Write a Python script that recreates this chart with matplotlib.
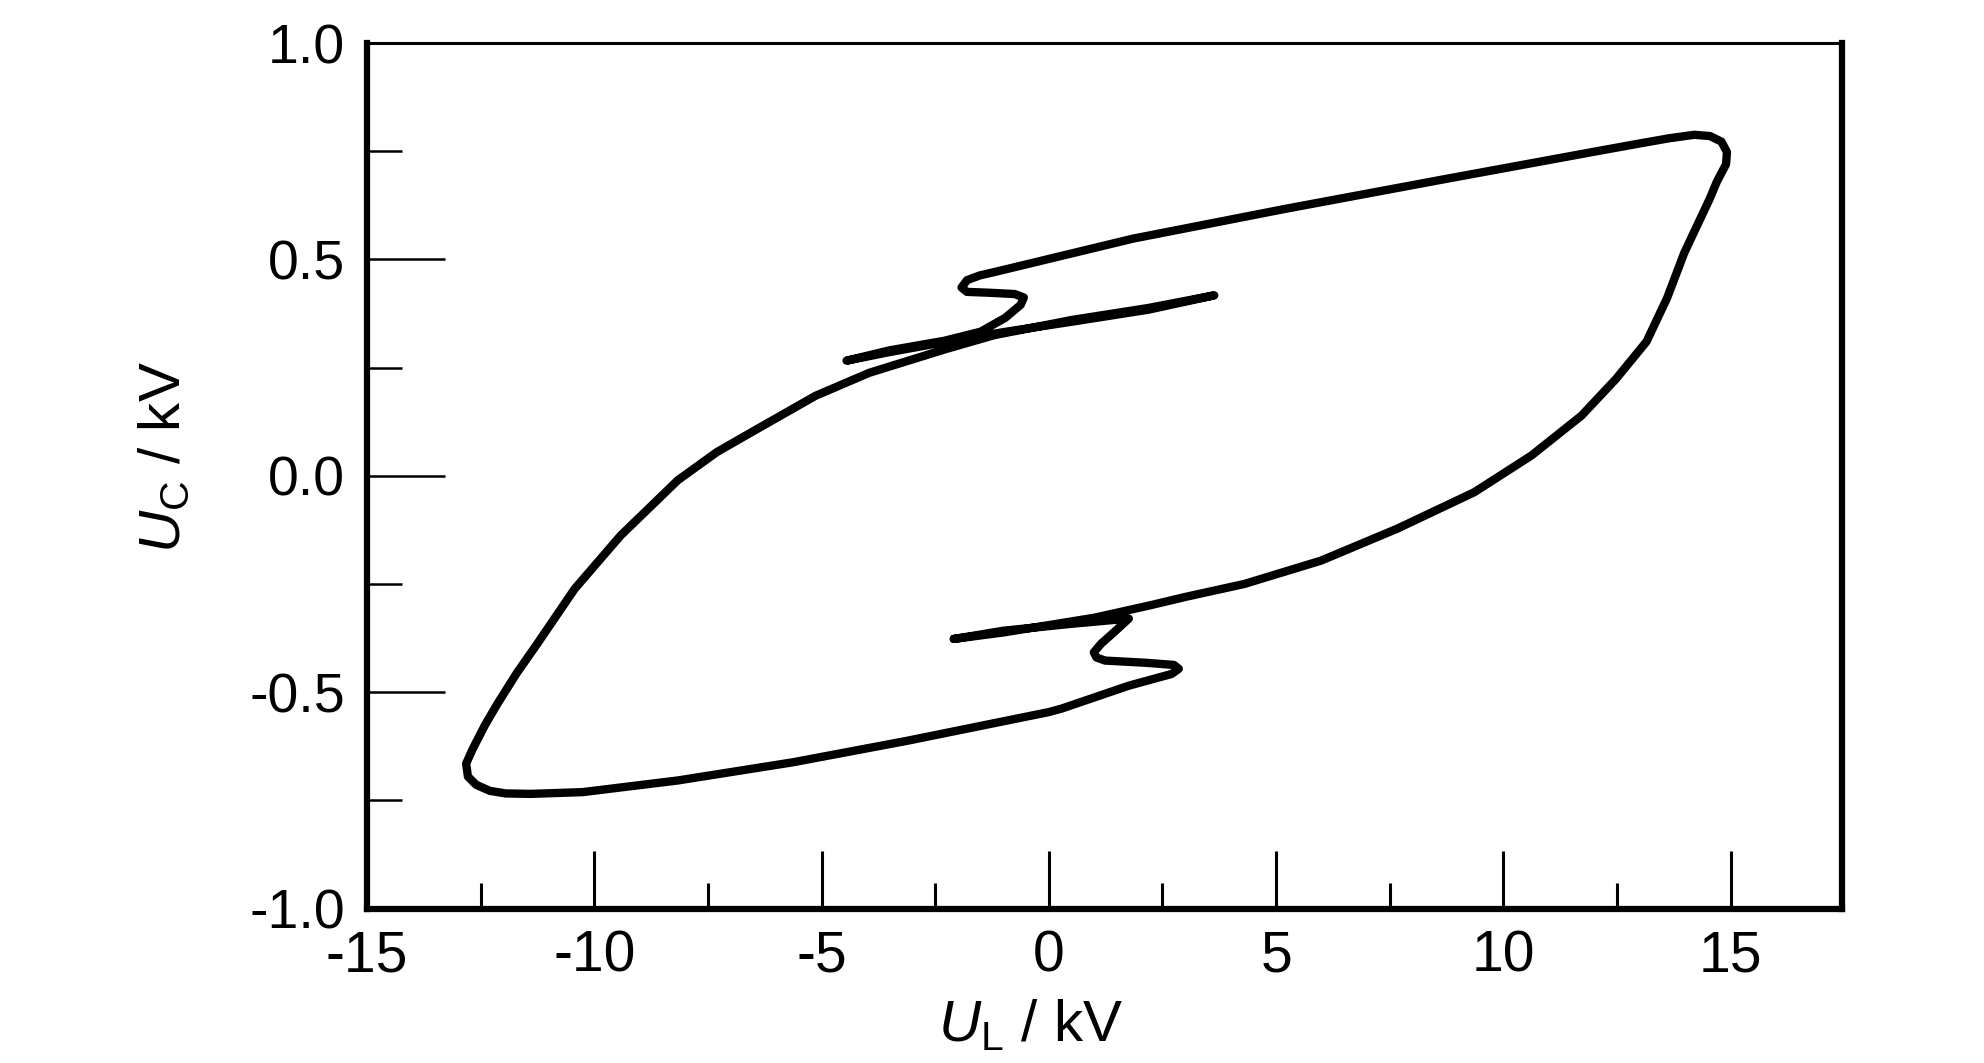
import numpy as np
import matplotlib.pyplot as plt
from matplotlib.ticker import MultipleLocator

plt.rcParams['axes.unicode_minus'] = False
plt.rcParams['mathtext.fontset'] = 'custom'
plt.rcParams['mathtext.rm'] = 'Liberation Sans'
plt.rcParams['mathtext.it'] = 'Liberation Sans:italic'

font = 'Liberation Sans'

# U_L (kV) / U_C (kV) read off the loop, walked in drawing order
# lower tail end -> back to the lower kink
lower_tail_x = [-2.09, -1.0, 0.5, 1.76]
lower_tail_y = [-0.377, -0.358, -0.342, -0.330]
# lower S kink
lower_s_x = [1.45, 1.15, 0.99, 1.05, 1.24, 2.12, 2.75, 2.86, 2.70, 1.76, 0.28]
lower_s_y = [-0.360, -0.388, -0.408, -0.420, -0.427, -0.432, -0.437, -0.446, -0.458, -0.485, -0.538]
# lower edge going left
lower_edge_x = [0.0, -3.1, -5.63, -8.16, -10.26, -11.4, -11.95, -12.3, -12.6, -12.78]
lower_edge_y = [-0.546, -0.612, -0.662, -0.704, -0.731, -0.735, -0.734, -0.728, -0.714, -0.695]
# left edge going up into the upper streak
left_edge_x = [-12.82, -12.67, -12.4, -12.12, -11.7, -11.28, -10.43, -9.42, -8.16,
               -7.3, -6.47, -5.13, -3.95, -2.26, -1.2, 0.5, 2.2, 3.64]
left_edge_y = [-0.665, -0.630, -0.575, -0.525, -0.455, -0.392, -0.261, -0.138, -0.010,
               0.055, 0.105, 0.185, 0.238, 0.293, 0.325, 0.360, 0.388, 0.417]
# back along the streak to the upper tail end, then to the upper kink
upper_tail_x = [2.2, 0.5, -1.0, -2.5, -3.5, -4.45, -3.5, -2.3, -1.5, -0.96]
upper_tail_y = [0.384, 0.356, 0.332, 0.305, 0.286, 0.266, 0.290, 0.312, 0.333, 0.365]
# upper S kink
upper_s_x = [-0.62, -0.55, -0.75, -1.3, -1.8, -1.92, -1.8, -1.52, -1.19]
upper_s_y = [0.395, 0.412, 0.420, 0.423, 0.425, 0.435, 0.452, 0.463, 0.471]
# upper edge going right
upper_edge_x = [1.85, 5.21, 8.58, 11.95, 13.0, 13.65, 14.2, 14.55, 14.8, 14.92, 14.9]
upper_edge_y = [0.548, 0.617, 0.683, 0.748, 0.768, 0.780, 0.788, 0.785, 0.772, 0.748, 0.720]
# right edge going down and back into the lower streak
right_edge_x = [14.7, 14.54, 13.98, 13.6, 13.15, 12.48, 11.72, 10.62, 9.36, 7.67, 5.99, 4.3,
                3.0, 2.2, 1.0, 0.0, -1.0, -2.09]
right_edge_y = [0.680, 0.640, 0.515, 0.410, 0.310, 0.224, 0.139, 0.047, -0.038, -0.122, -0.196, -0.250,
                -0.280, -0.300, -0.328, -0.345, -0.362, -0.377]

ul = np.concatenate([lower_tail_x, lower_s_x, lower_edge_x, left_edge_x,
                     upper_tail_x, upper_s_x, upper_edge_x, right_edge_x])
uc = np.concatenate([lower_tail_y, lower_s_y, lower_edge_y, left_edge_y,
                     upper_tail_y, upper_s_y, upper_edge_y, right_edge_y])

x_ticks = [-15, -10, -5, 0, 5, 10, 15]
y_ticks = [-1.0, -0.5, 0.0, 0.5, 1.0]

fig = plt.figure(figsize=(19.84, 10.63), dpi=100)
ax = fig.add_axes([0.185, 0.1453, 0.7434, 0.8142])

ax.plot(ul, uc, color='black', lw=6, solid_joinstyle='round', solid_capstyle='round')

ax.set_xlim(-15, 17.45)
ax.set_ylim(-1.0, 1.0)
ax.set_xticks(x_ticks)
ax.set_yticks(y_ticks)
ax.xaxis.set_minor_locator(MultipleLocator(2.5))
ax.yaxis.set_minor_locator(MultipleLocator(0.25))
ax.set_xticklabels([str(v) for v in x_ticks], fontfamily=font, fontsize=41)
ax.set_yticklabels(['%.1f' % v for v in y_ticks], fontfamily=font, fontsize=40)

ax.tick_params(axis='x', which='major', direction='in', length=42, width=2.2, pad=15)
ax.tick_params(axis='x', which='minor', direction='in', length=19, width=2.2)
ax.tick_params(axis='y', which='major', direction='in', length=56, width=1.8, pad=16)
ax.tick_params(axis='y', which='minor', direction='in', length=25, width=1.8)
ax.tick_params(top=False, right=False, which='both')

for side in ['left', 'bottom', 'right']:
    ax.spines[side].set_linewidth(4.5)
ax.spines['top'].set_linewidth(2.2)

ax.text(0.45, -0.153, r'$\mathit{U}_{\mathrm{L}}$ / kV', transform=ax.transAxes,
        ha='center', va='baseline', fontsize=42, fontfamily=font)
ax.text(-0.137, 0.522, r'$\mathit{U}_{\mathrm{C}}$ / kV', transform=ax.transAxes,
        ha='center', va='center', rotation=90, fontsize=42, fontfamily=font)

fig.savefig('out.png', dpi=100)
